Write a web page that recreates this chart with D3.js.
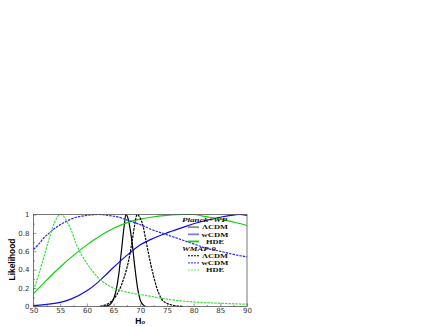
<!DOCTYPE html>
<html>
<head>
<meta charset="utf-8">
<script src="https://cdn.jsdelivr.net/npm/d3@7.9.0/dist/d3.min.js"></script>
<style>
  body { margin: 0; background: #fff; }
  svg { display: block; }
</style>
</head>
<body>
<div id="chart"></div>
<script>
// H0 grid values and likelihoods
const planckLcdm = [
  [63, 0], [64, 0.01], [64.5, 0.03], [65, 0.08], [65.5, 0.18], [66, 0.36], [66.5, 0.62],
  [67, 0.88], [67.3, 1.0], [67.7, 0.96], [68, 0.88], [68.5, 0.68], [69, 0.42],
  [69.5, 0.2], [70, 0.07], [70.5, 0.02], [71, 0]
];
const planckWcdm = [
  [50, 0.01], [52, 0.02], [55, 0.045], [57, 0.08], [60, 0.17], [62, 0.26], [64, 0.37],
  [66, 0.48], [68, 0.58], [70, 0.67], [72, 0.73], [75, 0.8], [78, 0.86], [80, 0.9],
  [82, 0.93], [85, 0.97], [87, 0.99], [88.5, 1.0], [90, 0.99]
];
const planckHde = [
  [50, 0.14], [52, 0.26], [55, 0.43], [58, 0.58], [60, 0.67], [62, 0.75], [65, 0.85],
  [68, 0.92], [70, 0.95], [72, 0.97], [75, 0.99], [78, 1.0], [80, 1.0], [82, 0.98],
  [85, 0.95], [88, 0.91], [90, 0.88]
];
const wmapLcdm = [
  [62.5, 0], [63, 0.01], [64, 0.03], [65, 0.08], [66, 0.17], [67, 0.32], [67.5, 0.42],
  [68, 0.55], [68.5, 0.72], [69, 0.9], [69.4, 1.0], [70, 0.96], [70.5, 0.88],
  [71, 0.74], [71.5, 0.59], [72, 0.45], [72.5, 0.33], [73, 0.22], [73.5, 0.14],
  [74, 0.08], [75, 0.035], [76, 0.015], [77, 0.005], [78, 0]
];
const wmapWcdm = [
  [50, 0.62], [51, 0.68], [52, 0.75], [53, 0.8], [54, 0.85], [55, 0.89], [56, 0.92],
  [57, 0.95], [58, 0.97], [60, 0.99], [62, 1.0], [64, 0.99], [66, 0.97], [68, 0.93],
  [70, 0.89], [72, 0.84], [75, 0.78], [78, 0.72], [80, 0.68], [82, 0.64], [85, 0.6],
  [88, 0.56], [90, 0.54]
];
const wmapHde = [
  [50, 0.18], [51, 0.35], [52, 0.55], [53, 0.75], [54, 0.92], [55, 1.0], [55.5, 0.99],
  [56, 0.95], [57, 0.84], [58, 0.68], [59, 0.56], [60, 0.47], [61, 0.39], [62, 0.32],
  [64, 0.23], [66, 0.18], [68, 0.15], [70, 0.13], [72, 0.11], [75, 0.08], [80, 0.05],
  [85, 0.035], [90, 0.025]
];

const xTicks = [50, 55, 60, 65, 70, 75, 80, 85, 90];
const yTicks = [0, 0.2, 0.4, 0.6, 0.8, 1];
const groups = ['Planck+WP', 'WMAP-9'];

const series = [
  { name: 'ΛCDM', data: planckLcdm, color: '#000', dash: null, key: '#8a8a8a' },
  { name: 'wCDM', data: planckWcdm, color: '#0a0aee', dash: null, key: '#7a7aff' },
  { name: 'HDE', data: planckHde, color: '#10d010', dash: null, key: '#10d010' },
  { name: 'ΛCDM', data: wmapLcdm, color: '#000', dash: '2.5,1', key: '#000' },
  { name: 'wCDM', data: wmapWcdm, color: '#2a2aff', dash: '2.5,1', key: '#2a2aff' },
  { name: 'HDE', data: wmapHde, color: '#3ee03e', dash: '2.5,1', key: '#6aee6a' }
];

const width = 436;
const height = 327;
const margin = { top: 214.5, right: 189, bottom: 20.5, left: 33.5 };

const svg = d3.select('#chart').append('svg')
  .attr('width', width)
  .attr('height', height);

const x = d3.scaleLinear().domain([50, 90]).range([margin.left, width - margin.right]);
const y = d3.scaleLinear().domain([0, 1]).range([height - margin.bottom, margin.top]);

// curves
const line = d3.line()
  .x(d => x(d[0]))
  .y(d => y(d[1]))
  .curve(d3.curveMonotoneX);

svg.append('g')
  .selectAll('path')
  .data(series)
  .join('path')
  .attr('d', d => line(d.data))
  .attr('fill', 'none')
  .attr('stroke', d => d.color)
  .attr('stroke-width', 1.2)
  .attr('stroke-dasharray', d => d.dash);

// frame
svg.append('rect')
  .attr('x', x(50))
  .attr('y', y(1))
  .attr('width', x(90) - x(50))
  .attr('height', y(0) - y(1))
  .attr('fill', 'none')
  .attr('stroke', '#555')
  .attr('stroke-width', 0.8);

// axes (ticks point inward)
const xAxis = svg.append('g')
  .attr('transform', `translate(0,${y(0)})`)
  .call(d3.axisBottom(x).tickValues(xTicks).tickSizeInner(-3).tickSizeOuter(0).tickPadding(2));
const xMinor = svg.append('g')
  .attr('transform', `translate(0,${y(0)})`)
  .call(d3.axisBottom(x).tickValues(d3.range(52.5, 90, 5)).tickSize(-1.5).tickFormat(''));
const yAxis = svg.append('g')
  .attr('transform', `translate(${x(50)},0)`)
  .call(d3.axisLeft(y).tickValues(yTicks).tickSizeInner(-3).tickSizeOuter(0).tickPadding(4)
    .tickFormat(d3.format('~g')));
const yMinor = svg.append('g')
  .attr('transform', `translate(${x(50)},0)`)
  .call(d3.axisLeft(y).tickValues([0.1, 0.3, 0.5, 0.7, 0.9]).tickSize(-1.5).tickFormat(''));

[xAxis, xMinor, yAxis, yMinor].forEach(g => {
  g.select('.domain').remove();
  g.selectAll('line').attr('stroke', '#555').attr('stroke-width', 0.6);
  g.selectAll('text')
    .attr('font-family', 'DejaVu Sans, sans-serif')
    .attr('font-size', 7)
    .attr('fill', '#333');
});

// axis titles
svg.append('text')
  .attr('x', x(70))
  .attr('y', 323.5)
  .attr('text-anchor', 'middle')
  .attr('font-family', 'Liberation Sans, Arial, sans-serif')
  .attr('font-weight', 'bold')
  .attr('font-size', 8.5)
  .html('H<tspan font-size="6" dy="0.5">o</tspan>');

svg.append('text')
  .attr('transform', `translate(15,${y(0.5) - 1}) rotate(-90)`)
  .attr('text-anchor', 'middle')
  .attr('font-family', 'Liberation Sans, Arial, sans-serif')
  .attr('font-weight', 'bold')
  .attr('font-size', 9)
  .attr('textLength', 42)
  .attr('lengthAdjust', 'spacingAndGlyphs')
  .text('Likelihood');

// legend
const legend = svg.append('g')
  .attr('font-family', 'Liberation Serif, Times New Roman, serif')
  .attr('font-weight', 'bold')
  .attr('font-size', 6)
  .attr('fill', '#111');

const rowY = d3.range(8).map(i => 220 + i * 7.15);
const titleLen = [45, 34];
const nameLen = { 'ΛCDM': 26, 'wCDM': 27, 'HDE': 18 };

groups.forEach((g, gi) => {
  legend.append('text')
    .attr('x', 182)
    .attr('y', rowY[gi * 4] + 2.2)
    .attr('font-style', 'italic')
    .attr('textLength', titleLen[gi])
    .attr('lengthAdjust', 'spacingAndGlyphs')
    .text(g);
  series.slice(gi * 3, gi * 3 + 3).forEach((s, i) => {
    const yy = rowY[gi * 4 + i + 1];
    legend.append('line')
      .attr('x1', 188).attr('x2', 199)
      .attr('y1', yy).attr('y2', yy)
      .attr('stroke', s.key)
      .attr('stroke-width', s.dash ? 1 : 1.8)
      .attr('stroke-dasharray', s.dash ? '2,1' : null);
    legend.append('text')
      .attr('x', 215)
      .attr('y', yy + 2.2)
      .attr('text-anchor', 'middle')
      .attr('textLength', nameLen[s.name])
      .attr('lengthAdjust', 'spacingAndGlyphs')
      .text(s.name);
  });
});
</script>
</body>
</html>
